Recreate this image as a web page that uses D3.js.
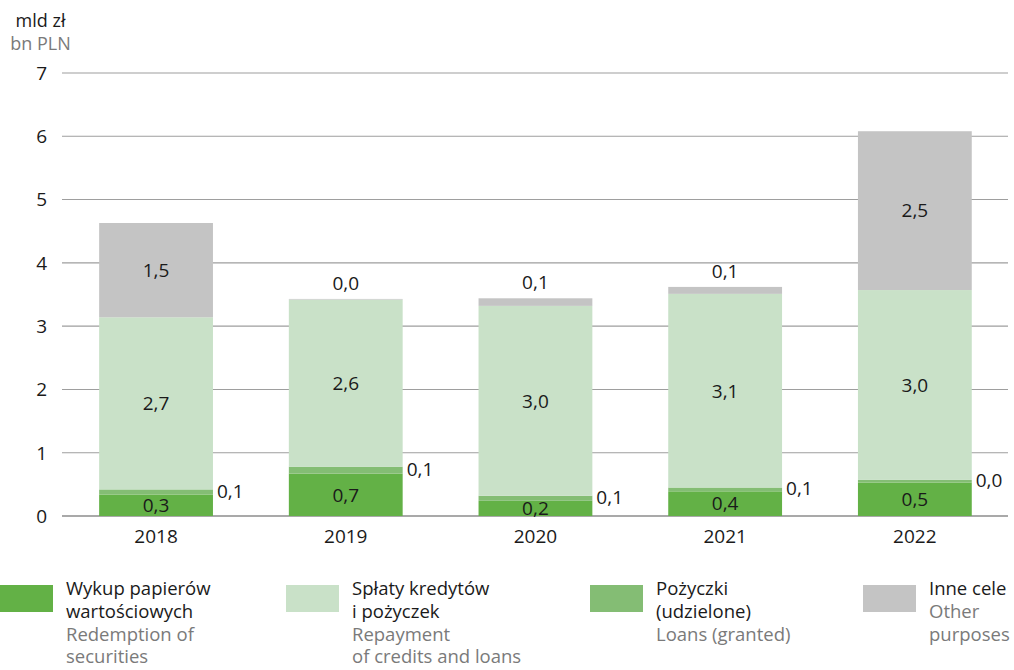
<!DOCTYPE html>
<html><head><meta charset="utf-8">
<script src="https://cdn.jsdelivr.net/npm/d3@7"></script>
<style>
html,body{margin:0;padding:0;background:#fff;}
svg{display:block;font-family:"Open Sans","Noto Sans",sans-serif;}
</style></head>
<body><svg id="c" width="1014" height="670"></svg>
<script>
const years = ["2018","2019","2020","2021","2022"];
const redemption = [0.34,0.67,0.24,0.39,0.53];
const loans = [0.08,0.11,0.08,0.06,0.04];
const repayment = [2.72,2.64,3.00,3.06,3.00];
const other = [1.49,0.01,0.12,0.11,2.51];
const yTicks = [0,1,2,3,4,5,6,7];
const seriesKeys = ["redemption","loans","repayment","other"];
const seriesColors = {redemption:"#63b146",loans:"#84bd74",repayment:"#c9e1c8",other:"#c4c4c4"};
const legendItems = [
  {key:"redemption", pl:["Wykup papierów","wartościowych"], en:["Redemption of","securities"]},
  {key:"repayment", pl:["Spłaty kredytów","i pożyczek"], en:["Repayment","of credits and loans"]},
  {key:"loans", pl:["Pożyczki","(udzielone)"], en:["Loans (granted)"]},
  {key:"other", pl:["Inne cele"], en:["Other","purposes"]}
];

const table = years.map((y,i)=>({year:y,redemption:redemption[i],loans:loans[i],repayment:repayment[i],other:other[i]}));
const fmt = v => d3.format(".1f")(v).replace(".",",");

const svg = d3.select("#c");
const x = d3.scaleBand().domain(years).range([61.2,1009.7]).paddingInner(0.4).paddingOuter(0.2);
const y = d3.scaleLinear().domain([0,7]).range([516,73]);

// gridlines
svg.append("g").selectAll("line").data(yTicks).join("line")
  .attr("x1",62).attr("x2",1008)
  .attr("y1",d=>y(d)).attr("y2",d=>y(d))
  .attr("stroke",d=>d===0?"#8c8c8c":"#9e9e9e")
  .attr("stroke-width",d=>d===0?1.6:1.1);

// y tick labels
svg.append("g").selectAll("text").data(yTicks).join("text")
  .attr("x",47).attr("y",d=>y(d)).attr("dy","0.36em")
  .attr("text-anchor","end").attr("font-size",19).attr("fill","#1a1a1a")
  .text(d=>d);

// unit labels
svg.append("text").attr("x",40.5).attr("y",27).attr("text-anchor","middle")
  .attr("font-size",18).attr("fill","#1a1a1a").text("mld zł");
svg.append("text").attr("x",40.5).attr("y",50).attr("text-anchor","middle")
  .attr("font-size",18).attr("fill","#7a7a7a").text("bn PLN");

// stacks
const stack = d3.stack().keys(seriesKeys)(table);
const gBars = svg.append("g");
stack.forEach(layer=>{
  gBars.append("g").attr("fill",seriesColors[layer.key])
    .selectAll("rect").data(layer).join("rect")
    .attr("x",d=>x(d.data.year)).attr("width",x.bandwidth())
    .attr("y",d=>y(d[1])).attr("height",d=>y(d[0])-y(d[1]));
});

// value labels
const gLab = svg.append("g").attr("font-size",19).attr("fill","#1a1a1a");
stack.forEach(layer=>{
  layer.forEach(d=>{
    const v = d[1]-d[0];
    const cx = x(d.data.year)+x.bandwidth()/2;
    let tx=cx, ty=(y(d[0])+y(d[1]))/2, anchor="middle";
    if(layer.key==="loans"){ tx = x(d.data.year)+x.bandwidth()+4; anchor="start"; ty = ty-1; }
    if(layer.key==="other" && v<0.5){ ty = y(d[1])-16; }
    gLab.append("text").attr("x",tx).attr("y",ty).attr("dy","0.36em")
      .attr("text-anchor",anchor).text(fmt(v));
  });
});

// x labels
svg.append("g").selectAll("text").data(years).join("text")
  .attr("x",d=>x(d)+x.bandwidth()/2).attr("y",536).attr("dy","0.36em")
  .attr("text-anchor","middle").attr("font-size",19).attr("fill","#1a1a1a")
  .text(d=>d);

// legend
const legX = [0,286,590,863];
const lg = svg.append("g");
legendItems.forEach((it,i)=>{
  const g = lg.append("g").attr("transform",`translate(${legX[i]},0)`);
  g.append("rect").attr("x",0).attr("y",585).attr("width",53).attr("height",27).attr("fill",seriesColors[it.key]);
  const lines = it.pl.map(t=>({t,c:"#1a1a1a"})).concat(it.en.map(t=>({t,c:"#7a7a7a"})));
  lines.forEach((l,j)=>{
    g.append("text").attr("x",66).attr("y",595+j*22.8).attr("font-size",18.5).attr("fill",l.c).text(l.t);
  });
});
</script></body></html>
